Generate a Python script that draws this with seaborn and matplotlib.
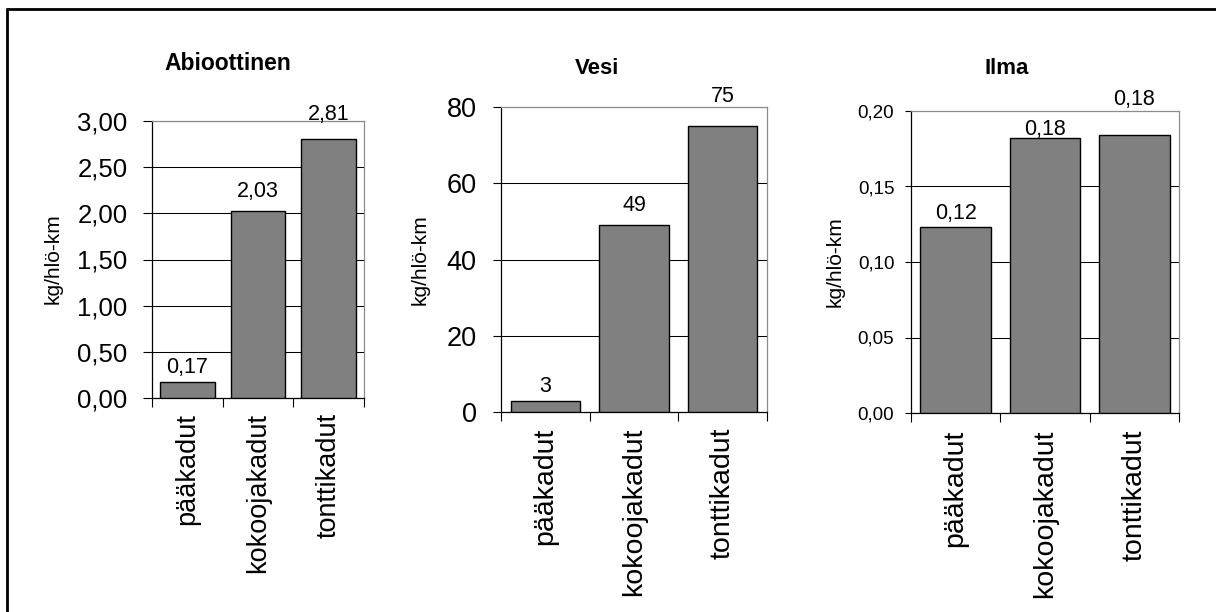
import matplotlib
matplotlib.use("Agg")
import matplotlib.pyplot as plt
from matplotlib.lines import Line2D
from matplotlib.ticker import FixedLocator, FuncFormatter
import seaborn as sns
import pandas as pd

# ---- data ----
categories = ["pääkadut", "kokoojakadut", "tonttikadut"]
titles = ["Abioottinen", "Vesi", "Ilma"]
ylabel = "kg/hlö-km"
abiootti = [0.17, 2.03, 2.81]
vesi = [3, 49, 75]
ilma = [0.123, 0.182, 0.184]
decimals = [2, 0, 2]
ymax = [3.0, 80, 0.20]
ystep = [0.5, 20, 0.05]

# ---- style ----
sns.set_style("white")
plt.rcParams["font.family"] = ["Liberation Sans", "DejaVu Sans"]

W, H = 1216, 612
fig = plt.figure(figsize=(W / 100, H / 100), dpi=100)

def px_rect(l, r, t, b):
    return [l / W, 1 - b / H, (r - l) / W, (b - t) / H]

axes_px = [(152, 364, 121, 398), (501, 767, 107, 412), (911, 1179, 111, 413)]
title_px = [(228, 63), (597, 68), (1007, 68)]
ylabel_px = [(53, 259), (420, 260), (835, 262)]
title_fs = [16.5, 16, 16]
ytick_fs = [18.5, 19.5, 13.5]
xtick_fs = [19.5, 20.5, 20.5]
ytick_pad = [11, 11.5, 8]
ytick_len = [6.5, 6, 4]
xtick_pad = [11, 11, 12]
bar_width = [0.77, 0.78, 0.79]
label_gap_pt = [[6.5, 10, 13.5], [6, 10, 17], [6, 2, 21.5]]

series = [abiootti, vesi, ilma]

for i, vals in enumerate(series):
    ax = fig.add_axes(px_rect(*axes_px[i]))
    df = pd.DataFrame({"katu": categories, "arvo": vals})
    sns.barplot(data=df, x="katu", y="arvo", ax=ax, color="#808080",
                saturation=1, edgecolor="black", linewidth=1.0,
                width=bar_width[i], zorder=3)
    ax.set_xlim(-0.5, 2.5)
    ax.set_ylim(0, ymax[i])
    n = int(round(ymax[i] / ystep[i]))
    ticks = [k * ystep[i] for k in range(n + 1)]
    ax.yaxis.set_major_locator(FixedLocator(ticks))
    d = decimals[i]
    ax.yaxis.set_major_formatter(
        FuncFormatter(lambda v, p, d=d: f"{v:.{d}f}".replace(".", ",")))
    ax.yaxis.grid(True, color="black", linewidth=0.75)
    ax.xaxis.grid(False)
    ax.set_axisbelow(True)
    for s in ["left", "bottom"]:
        ax.spines[s].set_color("black")
        ax.spines[s].set_linewidth(0.9)
    for s in ["top", "right"]:
        ax.spines[s].set_color("#8c8c8c")
        ax.spines[s].set_linewidth(0.9)
    ax.tick_params(axis="y", which="major", direction="out", length=ytick_len[i],
                   width=0.8, color="black", left=True, labelsize=ytick_fs[i],
                   pad=ytick_pad[i], labelcolor="black")
    ax.xaxis.set_minor_locator(FixedLocator([-0.5, 0.5, 1.5, 2.5]))
    ax.tick_params(axis="x", which="minor", direction="out", length=6.5,
                   width=0.8, color="black", bottom=True)
    ax.tick_params(axis="x", which="major", length=0, labelsize=xtick_fs[i],
                   pad=xtick_pad[i], labelrotation=90, labelcolor="black")
    ax.set_xlabel("")
    ax.set_ylabel("")
    # value labels
    for j, v in enumerate(vals):
        txt = f"{v:.{d}f}".replace(".", ",")
        ax.annotate(txt, xy=(j, v), xytext=(0, label_gap_pt[i][j]),
                    textcoords="offset points", ha="center", va="baseline",
                    fontsize=15.5, color="black", annotation_clip=False)
    # title and y label
    tx, ty = title_px[i]
    fig.text(tx / W, 1 - ty / H, titles[i], ha="center", va="center",
             fontsize=title_fs[i], fontweight="bold", color="black")
    lx, ly = ylabel_px[i]
    fig.text(lx / W, 1 - ly / H, ylabel, ha="center", va="center",
             rotation=90, fontsize=15, color="black")

# outer frame (top and left edges visible)
fig.add_artist(Line2D([7 / W, 1.0], [1 - 8.5 / H, 1 - 8.5 / H],
                      transform=fig.transFigure, color="black", linewidth=2))
fig.add_artist(Line2D([7 / W, 7 / W], [0.0, 1 - 8.5 / H],
                      transform=fig.transFigure, color="black", linewidth=2))

fig.savefig("out.png", dpi=100, facecolor="white")
